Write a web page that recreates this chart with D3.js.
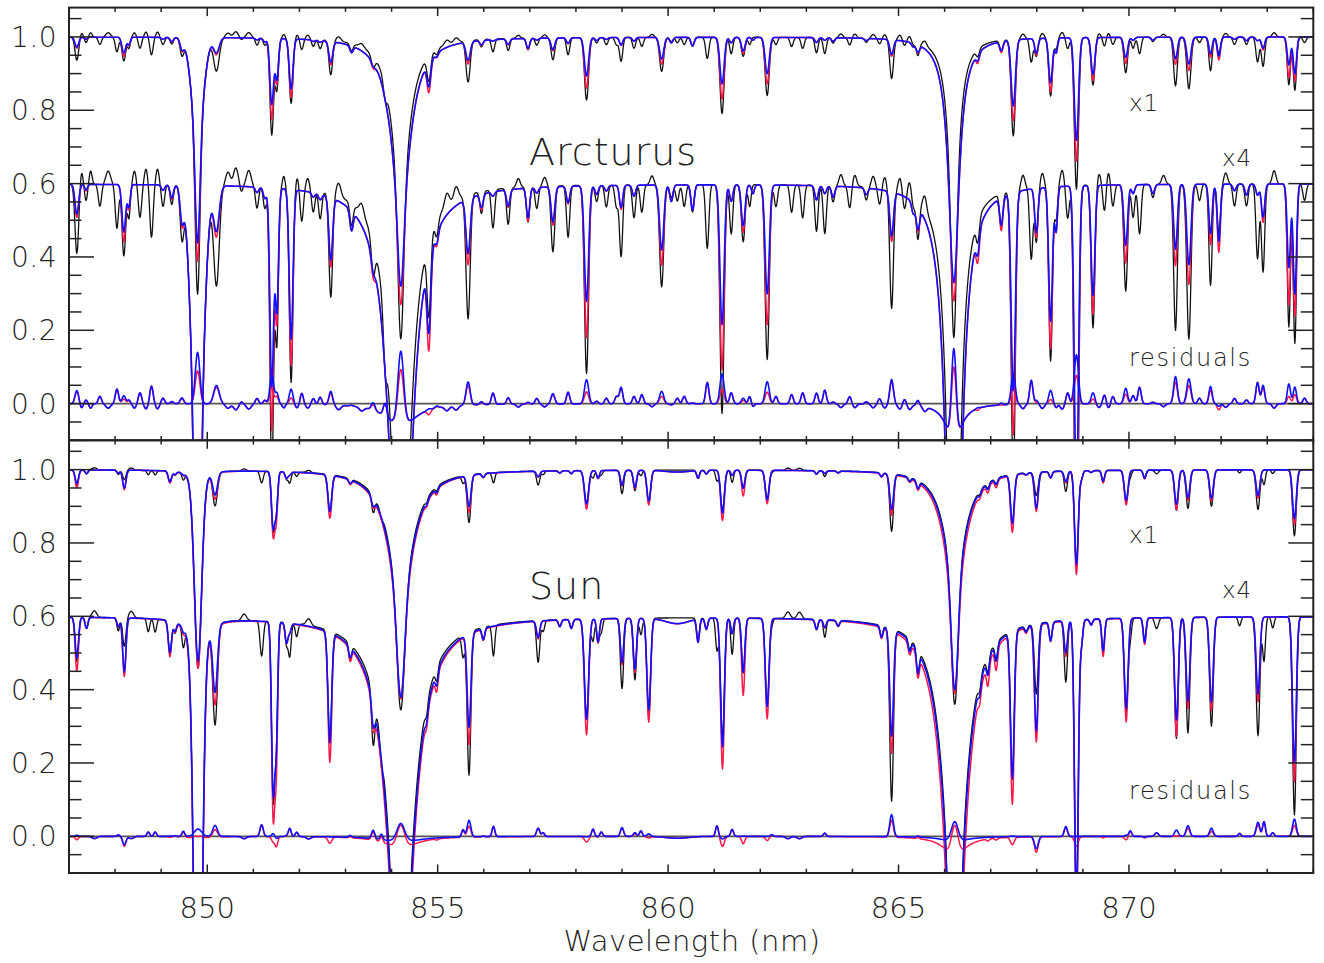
<!DOCTYPE html>
<html>
<head>
<meta charset="utf-8">
<script src="https://cdn.jsdelivr.net/npm/d3@7"></script>
<style>
  html, body { margin: 0; padding: 0; background: #fff; }
  svg text { font-family: "DejaVu Sans", "Liberation Sans", sans-serif; font-weight: 200; fill: #222; }
</style>
</head>
<body>
<svg id="chart" width="1324" height="963"></svg>
<script>
// Axis ranges and ticks
const wavelengthRange = [847, 874];
const fluxRange = [-0.1, 1.08];
const wavelengthTicks = [850, 855, 860, 865, 870];
const fluxTicks = [0.0, 0.2, 0.4, 0.6, 0.8, 1.0];
const starNames = ["Arcturus", "Sun"];
const curveLabels = ["x1", "x4", "residuals"];

// The magnified copy of each spectrum sits on a 0.6 continuum with depths stretched
const magnifiedContinuum = 0.6;
const magnifiedStretch = 3;

// Absorption lines: [centre (nm), depth observed, depth red model, depth blue model, gaussian sigma (nm)]
// negative depths are small bumps above the continuum in the observed spectrum
const arcturusLines = [
  [847.17, 0.063, 0.030, 0.027, 0.04],
  [847.27, -0.012, 0, 0, 0.03],
  [847.37, 0.015, 0.006, 0.005, 0.03],
  [847.47, -0.012, 0, 0, 0.03],
  [847.67, 0.020, 0, 0, 0.035],
  [847.85, -0.012, 0, 0, 0.05],
  [848.04, 0.040, 0, 0, 0.035],
  [848.19, 0.065, 0.052, 0.043, 0.04],
  [848.30, 0.030, 0.022, 0.020, 0.03],
  [848.42, -0.012, 0, 0, 0.035],
  [848.54, 0.030, 0, 0, 0.035],
  [848.67, -0.014, 0, 0, 0.035],
  [848.79, 0.048, 0, 0, 0.035],
  [848.92, -0.014, 0, 0, 0.035],
  [849.04, 0.020, 0.005, 0.005, 0.035],
  [849.23, 0.018, 0.013, 0.012, 0.035],
  [849.45, 0.043, 0.030, 0.027, 0.04],
  [849.79, 0.26, 0.26, 0.26, 0.13],
  [849.79, 0.44, 0.35, 0.30, 0.05],
  [850.20, 0.090, 0.045, 0.040, 0.06],
  [850.45, -0.012, 0, 0, 0.05],
  [850.62, -0.016, 0, 0, 0.05],
  [850.74, 0.006, 0, 0, 0.03],
  [850.90, -0.014, 0, 0, 0.05],
  [851.08, 0.020, 0.005, 0.005, 0.035],
  [851.25, 0.020, 0.010, 0.010, 0.035],
  [851.40, 0.264, 0.220, 0.180, 0.04],
  [851.51, 0.140, 0.120, 0.110, 0.035],
  [851.66, -0.010, 0, 0, 0.03],
  [851.82, 0.177, 0.160, 0.136, 0.04],
  [851.95, -0.010, 0, 0, 0.04],
  [852.05, 0.030, 0, 0, 0.035],
  [852.18, -0.010, 0, 0, 0.04],
  [852.30, 0.020, 0.004, 0.004, 0.035],
  [852.45, 0.025, 0.005, 0.005, 0.035],
  [852.68, 0.094, 0.063, 0.057, 0.04],
  [852.85, -0.012, 0, 0, 0.05],
  [853.13, 0.020, 0.018, 0.018, 0.035],
  [853.35, -0.010, 0, 0, 0.05],
  [853.60, 0.030, 0.015, 0.010, 0.04],
  [853.86, 0.040, 0.004, 0.004, 0.04],
  [854.20, 0.373, 0.25, 0.20, 0.06],
  [854.81, 0.070, 0.083, 0.067, 0.04],
  [854.98, 0.015, 0.012, 0.010, 0.035],
  [855.20, -0.012, 0, 0, 0.05],
  [855.40, -0.012, 0, 0, 0.05],
  [855.66, 0.113, 0.060, 0.050, 0.045],
  [855.95, 0.020, 0.014, 0.012, 0.035],
  [856.20, 0.035, 0.004, 0.004, 0.035],
  [856.53, 0.033, 0.016, 0.015, 0.035],
  [856.75, -0.008, 0, 0, 0.04],
  [856.96, 0.032, 0.030, 0.027, 0.035],
  [857.15, 0.020, 0.005, 0.005, 0.035],
  [857.32, -0.008, 0, 0, 0.04],
  [857.50, 0.060, 0.035, 0.032, 0.04],
  [857.83, 0.047, 0.016, 0.015, 0.035],
  [858.23, 0.171, 0.138, 0.105, 0.045],
  [858.45, 0.015, 0.008, 0.008, 0.035],
  [858.66, 0.020, 0.005, 0.005, 0.035],
  [858.88, 0.020, 0, 0, 0.035],
  [858.98, 0.065, 0.022, 0.020, 0.035],
  [859.26, 0.030, 0.010, 0.010, 0.035],
  [859.43, 0.025, 0, 0, 0.035],
  [859.65, -0.008, 0, 0, 0.04],
  [859.86, 0.093, 0.073, 0.059, 0.045],
  [860.07, 0.012, 0.015, 0.015, 0.035],
  [860.20, 0.015, 0, 0, 0.035],
  [860.35, 0.020, 0, 0, 0.035],
  [860.53, 0.025, 0.023, 0.023, 0.035],
  [860.85, 0.058, 0, 0, 0.035],
  [861.17, 0.208, 0.168, 0.127, 0.045],
  [861.37, 0.045, 0.015, 0.015, 0.035],
  [861.63, 0.052, 0.043, 0.037, 0.04],
  [861.77, 0.020, 0, 0, 0.03],
  [861.84, 0, 0.008, 0.008, 0.03],
  [862.15, 0.159, 0.127, 0.099, 0.045],
  [862.34, 0.020, 0, 0, 0.035],
  [862.68, 0.025, 0, 0, 0.035],
  [862.92, 0.030, 0, 0, 0.035],
  [863.22, 0.042, 0.013, 0.013, 0.035],
  [863.40, 0.044, 0.007, 0.007, 0.035],
  [863.58, 0.015, 0.010, 0.010, 0.035],
  [863.75, -0.010, 0, 0, 0.04],
  [863.94, 0.020, 0, 0, 0.035],
  [864.05, -0.010, 0, 0, 0.04],
  [864.30, 0.012, 0.006, 0.006, 0.035],
  [864.45, -0.010, 0, 0, 0.04],
  [864.59, 0.015, 0, 0, 0.035],
  [864.70, -0.010, 0, 0, 0.04],
  [864.85, 0.108, 0.045, 0.040, 0.04],
  [865.03, -0.012, 0, 0, 0.04],
  [865.13, 0.015, 0, 0, 0.035],
  [865.24, -0.012, 0, 0, 0.04],
  [865.32, 0.010, 0.010, 0.010, 0.035],
  [865.42, 0.035, 0.022, 0.020, 0.035],
  [865.57, -0.012, 0, 0, 0.04],
  [866.20, 0.24, 0.08, 0.03, 0.05],
  [866.72, 0.020, 0.025, 0.018, 0.035],
  [867.23, 0.030, 0.030, 0.025, 0.035],
  [867.49, 0.264, 0.220, 0.180, 0.045],
  [867.70, -0.012, 0, 0, 0.04],
  [867.88, 0.065, 0, 0, 0.035],
  [867.99, 0.050, 0.045, 0.040, 0.035],
  [868.12, -0.012, 0, 0, 0.04],
  [868.30, 0.159, 0.147, 0.122, 0.04],
  [868.42, 0.030, 0.040, 0.040, 0.03],
  [868.55, -0.014, 0, 0, 0.04],
  [868.67, 0.030, 0, 0, 0.035],
  [868.86, 0.414, 0.336, 0.280, 0.045],
  [869.22, 0.130, 0.117, 0.100, 0.04],
  [869.35, -0.010, 0, 0, 0.04],
  [869.47, 0.025, 0, 0, 0.035],
  [869.55, -0.012, 0, 0, 0.04],
  [869.65, 0.020, 0, 0, 0.035],
  [869.93, 0.097, 0.071, 0.055, 0.04],
  [870.09, 0.030, 0.008, 0.008, 0.035],
  [870.23, 0.045, 0, 0, 0.035],
  [870.52, 0.012, 0.008, 0.008, 0.035],
  [870.75, -0.008, 0, 0, 0.04],
  [871.01, 0.133, 0.074, 0.059, 0.04],
  [871.30, 0.141, 0.091, 0.073, 0.045],
  [871.53, 0.015, 0, 0, 0.035],
  [871.77, 0.092, 0.055, 0.045, 0.035],
  [871.95, 0.045, 0.062, 0.052, 0.035],
  [872.10, -0.010, 0, 0, 0.04],
  [872.29, 0.020, 0.006, 0.006, 0.035],
  [872.55, 0.020, 0.010, 0.010, 0.035],
  [872.79, 0.068, 0.010, 0.010, 0.035],
  [872.91, 0.080, 0.035, 0.030, 0.035],
  [873.15, -0.012, 0, 0, 0.04],
  [873.47, 0.130, 0.110, 0.076, 0.035],
  [873.60, 0.145, 0.120, 0.100, 0.035],
  [873.81, 0.015, 0, 0, 0.035]
];

// Damping wings of the Ca II triplet:
// [centre (nm), observed amplitude, observed half-width (nm), red amplitude, blue amplitude, model half-width (nm)]
const arcturusWings = [
  [854.20, 0.45, 0.22, 0.48, 0.48, 0.25],
  [866.20, 0.58, 0.129, 0.64, 0.64, 0.146]
];

const sunLines = [
  [847.17, 0.040, 0.049, 0.037, 0.035],
  [847.38, 0.010, 0.010, 0.010, 0.03],
  [847.55, -0.006, 0, 0, 0.05],
  [848.07, 0.012, 0.008, 0.008, 0.03],
  [848.20, 0.026, 0.053, 0.049, 0.035],
  [848.35, -0.006, 0, 0, 0.05],
  [848.72, 0.012, 0, 0, 0.03],
  [848.87, 0.012, 0, 0, 0.03],
  [849.19, 0.030, 0.032, 0.029, 0.035],
  [849.30, 0.010, 0.008, 0.008, 0.03],
  [849.48, 0.018, 0.004, 0.004, 0.03],
  [849.80, 0.44, 0.42, 0.42, 0.08],
  [850.17, 0.090, 0.070, 0.060, 0.05],
  [850.80, -0.006, 0, 0, 0.05],
  [851.18, 0.032, 0, 0, 0.035],
  [851.43, 0.160, 0.174, 0.152, 0.035],
  [851.50, 0.094, 0.120, 0.100, 0.03],
  [851.72, 0.020, 0.018, 0.018, 0.03],
  [851.79, 0.030, 0.008, 0.008, 0.03],
  [851.94, 0.012, 0, 0, 0.03],
  [852.20, -0.006, 0, 0, 0.05],
  [852.66, 0.100, 0.117, 0.100, 0.04],
  [853.10, 0.015, 0.012, 0.010, 0.03],
  [853.60, 0.045, 0.022, 0.022, 0.035],
  [853.78, 0.015, 0, 0, 0.03],
  [854.20, 0.295, 0.24, 0.254, 0.08],
  [854.76, 0.010, 0.010, 0.010, 0.03],
  [854.98, 0.012, 0.015, 0.012, 0.03],
  [855.55, 0.020, 0, 0, 0.03],
  [855.68, 0.130, 0.100, 0.085, 0.04],
  [855.99, 0.012, 0.010, 0.010, 0.03],
  [856.21, 0.028, 0, 0, 0.03],
  [857.18, 0.038, 0.016, 0.015, 0.035],
  [857.29, 0.010, 0, 0, 0.03],
  [857.65, 0.006, 0.006, 0.006, 0.03],
  [857.90, 0.008, 0.008, 0.008, 0.03],
  [858.23, 0.090, 0.105, 0.091, 0.045],
  [858.37, 0.020, 0, 0, 0.03],
  [858.48, 0.020, 0.022, 0.021, 0.03],
  [858.55, 0.012, 0, 0, 0.03],
  [859.00, 0.064, 0.042, 0.040, 0.035],
  [859.28, 0.056, 0.049, 0.046, 0.035],
  [859.41, 0.015, 0, 0, 0.03],
  [859.58, 0.090, 0.094, 0.083, 0.04],
  [860.20, 0, 0.005, 0.005, 0.25],
  [860.65, 0.021, 0.021, 0.021, 0.03],
  [860.83, 0.010, 0.010, 0.010, 0.03],
  [861.06, 0.029, 0, 0, 0.03],
  [861.18, 0.110, 0.137, 0.117, 0.04],
  [861.39, 0.033, 0.014, 0.014, 0.03],
  [861.63, 0.050, 0.070, 0.049, 0.035],
  [862.15, 0.080, 0.091, 0.080, 0.04],
  [862.25, 0.005, 0, 0, 0.03],
  [862.60, -0.006, 0, 0, 0.05],
  [862.85, -0.006, 0, 0, 0.05],
  [863.22, 0.009, 0.009, 0.009, 0.03],
  [863.40, 0.016, 0.007, 0.007, 0.03],
  [863.69, 0.005, 0.005, 0.005, 0.03],
  [864.63, 0.010, 0.010, 0.010, 0.03],
  [864.85, 0.157, 0.111, 0.097, 0.04],
  [865.24, 0.010, 0.010, 0.010, 0.03],
  [865.42, 0.023, 0.020, 0.020, 0.03],
  [866.22, 0.33, 0.25, 0.28, 0.07],
  [866.76, 0.010, 0.010, 0.010, 0.03],
  [866.94, 0.015, 0.020, 0.015, 0.03],
  [867.12, 0.015, 0.020, 0.015, 0.03],
  [867.47, 0.135, 0.155, 0.133, 0.04],
  [867.77, 0.005, 0.005, 0.005, 0.03],
  [867.99, 0.064, 0.106, 0.097, 0.04],
  [868.30, 0.017, 0.017, 0.017, 0.03],
  [868.63, 0.056, 0.032, 0.029, 0.035],
  [868.86, 0.255, 0.282, 0.255, 0.04],
  [868.97, 0.020, 0.020, 0.020, 0.03],
  [869.18, 0.005, 0.005, 0.005, 0.03],
  [869.44, 0.030, 0.034, 0.029, 0.03],
  [869.94, 0.085, 0.094, 0.082, 0.04],
  [870.03, 0.015, 0, 0, 0.03],
  [870.34, 0.020, 0.024, 0.022, 0.03],
  [870.60, 0.010, 0, 0, 0.04],
  [871.03, 0.110, 0.108, 0.093, 0.04],
  [871.28, 0.105, 0.083, 0.076, 0.04],
  [871.79, 0.099, 0.085, 0.077, 0.04],
  [872.40, 0.008, 0, 0, 0.03],
  [872.80, 0.108, 0.077, 0.070, 0.04],
  [872.93, 0.040, 0, 0, 0.03],
  [873.12, 0.010, 0, 0, 0.03],
  [873.59, 0.180, 0.150, 0.133, 0.04]
];

const sunWings = [
  [849.80, 0.10, 0.10, 0.12, 0.10, 0.10],
  [854.20, 0.36, 0.30, 0.385, 0.366, 0.313],
  [866.22, 0.31, 0.26, 0.36, 0.32, 0.266]
];

// ---------------------------------------------------------------------------
const svg = d3.select("#chart");
const plotLeft = 69, plotRight = 1313.3;
const panels = [
  { name: starNames[0], lines: arcturusLines, wings: arcturusWings, top: 7.6, bottom: 440.3 },
  { name: starNames[1], lines: sunLines, wings: sunWings, top: 440.3, bottom: 873.0 }
];

const x = d3.scaleLinear().domain(wavelengthRange).range([plotLeft, plotRight]);
const samples = d3.range(0, 2701).map(i => wavelengthRange[0] + i * 0.01);

// column: 1 observed, 2 red model, 3 blue model
function spectrum(lines, wings, column) {
  return samples.map(w => {
    let depth = 0;
    for (const ln of lines) {
      const amp = ln[column];
      if (!amp) continue;
      const t = (w - ln[0]) / ln[4];
      if (t > -7 && t < 7) depth += amp * Math.exp(-0.5 * t * t);
    }
    for (const wg of wings) {
      const amp = column === 1 ? wg[1] : (column === 2 ? wg[3] : wg[4]);
      const hw = column === 1 ? wg[2] : wg[5];
      const t = (w - wg[0]) / hw;
      depth += amp / (1 + t * t);
    }
    return 1 - depth;
  });
}

const colours = { obs: "#111", red: "#ff1848", blue: "#1010ff" };
const widths = { obs: 1.3, red: 1.5, blue: 1.6 };
const fmt = d3.format(".1f");

panels.forEach((p, pi) => {
  const y = d3.scaleLinear().domain(fluxRange).range([p.bottom, p.top]);
  const g = svg.append("g");

  const clipId = "clip" + pi;
  svg.append("clipPath").attr("id", clipId)
    .append("rect").attr("x", plotLeft).attr("y", p.top)
    .attr("width", plotRight - plotLeft).attr("height", p.bottom - p.top);

  const plot = g.append("g").attr("clip-path", `url(#${clipId})`);

  // zero reference for the residuals
  plot.append("line")
    .attr("x1", plotLeft).attr("x2", plotRight)
    .attr("y1", y(0)).attr("y2", y(0))
    .attr("stroke", "#555").attr("stroke-width", 1.6);

  const obs = spectrum(p.lines, p.wings, 1);
  const red = spectrum(p.lines, p.wings, 2);
  const blue = spectrum(p.lines, p.wings, 3);

  const line = d3.line().x((d, i) => x(samples[i])).y(d => y(d));
  const magnify = f => f.map(v => magnifiedContinuum - magnifiedStretch * (1 - v));
  const residual = m => m.map((v, i) => v - obs[i]);

  const series = [
    { key: "obs", data: [obs, magnify(obs)] },
    { key: "red", data: [red, magnify(red), residual(red)] },
    { key: "blue", data: [blue, magnify(blue), residual(blue)] }
  ];
  series.forEach(s => {
    s.data.forEach(arr => {
      plot.append("path").attr("d", line(arr))
        .attr("fill", "none")
        .attr("stroke", colours[s.key])
        .attr("stroke-width", widths[s.key])
        .attr("stroke-linejoin", "round");
    });
  });

  // frame
  g.append("rect")
    .attr("x", plotLeft).attr("y", p.top)
    .attr("width", plotRight - plotLeft).attr("height", p.bottom - p.top)
    .attr("fill", "none").attr("stroke", "#222").attr("stroke-width", 2);

  // y ticks on both sides
  const yMinor = d3.range(-2, 22).map(i => +(i * 0.05).toFixed(2))
    .filter(v => !fluxTicks.some(t => Math.abs(t - v) < 1e-6));
  const tickGroup = g.append("g").attr("stroke", "#222").attr("stroke-width", 1.5);
  fluxTicks.forEach(v => {
    tickGroup.append("line").attr("x1", plotLeft).attr("x2", plotLeft + 25).attr("y1", y(v)).attr("y2", y(v));
    tickGroup.append("line").attr("x1", plotRight).attr("x2", plotRight - 25).attr("y1", y(v)).attr("y2", y(v));
  });
  yMinor.forEach(v => {
    tickGroup.append("line").attr("x1", plotLeft).attr("x2", plotLeft + 12.5).attr("y1", y(v)).attr("y2", y(v));
    tickGroup.append("line").attr("x1", plotRight).attr("x2", plotRight - 12.5).attr("y1", y(v)).attr("y2", y(v));
  });

  // x ticks on top and bottom
  const xMinor = d3.range(wavelengthRange[0], wavelengthRange[1] + 1).filter(v => !wavelengthTicks.includes(v));
  wavelengthTicks.forEach(v => {
    tickGroup.append("line").attr("x1", x(v)).attr("x2", x(v)).attr("y1", p.top).attr("y2", p.top + 8.5);
    tickGroup.append("line").attr("x1", x(v)).attr("x2", x(v)).attr("y1", p.bottom).attr("y2", p.bottom - 8.5);
  });
  xMinor.forEach(v => {
    tickGroup.append("line").attr("x1", x(v)).attr("x2", x(v)).attr("y1", p.top).attr("y2", p.top + 4.3);
    tickGroup.append("line").attr("x1", x(v)).attr("x2", x(v)).attr("y1", p.bottom).attr("y2", p.bottom - 4.3);
  });

  // y tick labels
  fluxTicks.forEach(v => {
    g.append("text").attr("x", 57).attr("y", y(v) + 10)
      .attr("text-anchor", "end").attr("font-size", 28)
      .attr("letter-spacing", 0.5)
      .text(fmt(v));
  });

  // star name
  g.append("text").attr("x", 529).attr("y", pi === 0 ? 165 : 599)
    .attr("font-size", 38).attr("letter-spacing", 1)
    .text(p.name);

  // curve labels
  g.append("text").attr("x", 1129).attr("y", y(0.8) + 0.5).attr("font-size", 23).attr("letter-spacing", 1).text(curveLabels[0]);
  g.append("text").attr("x", 1222).attr("y", y(0.65) + 0.5).attr("font-size", 23).attr("letter-spacing", 1).text(curveLabels[1]);
  g.append("text").attr("x", 1129).attr("y", y(0.1) - 0.5).attr("font-size", 24).attr("letter-spacing", 1.7).text(curveLabels[2]);
});

// x tick labels and axis title below the lower panel
wavelengthTicks.forEach(v => {
  svg.append("text").attr("x", x(v)).attr("y", 918)
    .attr("text-anchor", "middle").attr("font-size", 29)
    .text(v);
});
svg.append("text").attr("x", 692).attr("y", 951)
  .attr("text-anchor", "middle").attr("font-size", 29)
  .attr("letter-spacing", 0.5)
  .text("Wavelength (nm)");
</script>
</body>
</html>
